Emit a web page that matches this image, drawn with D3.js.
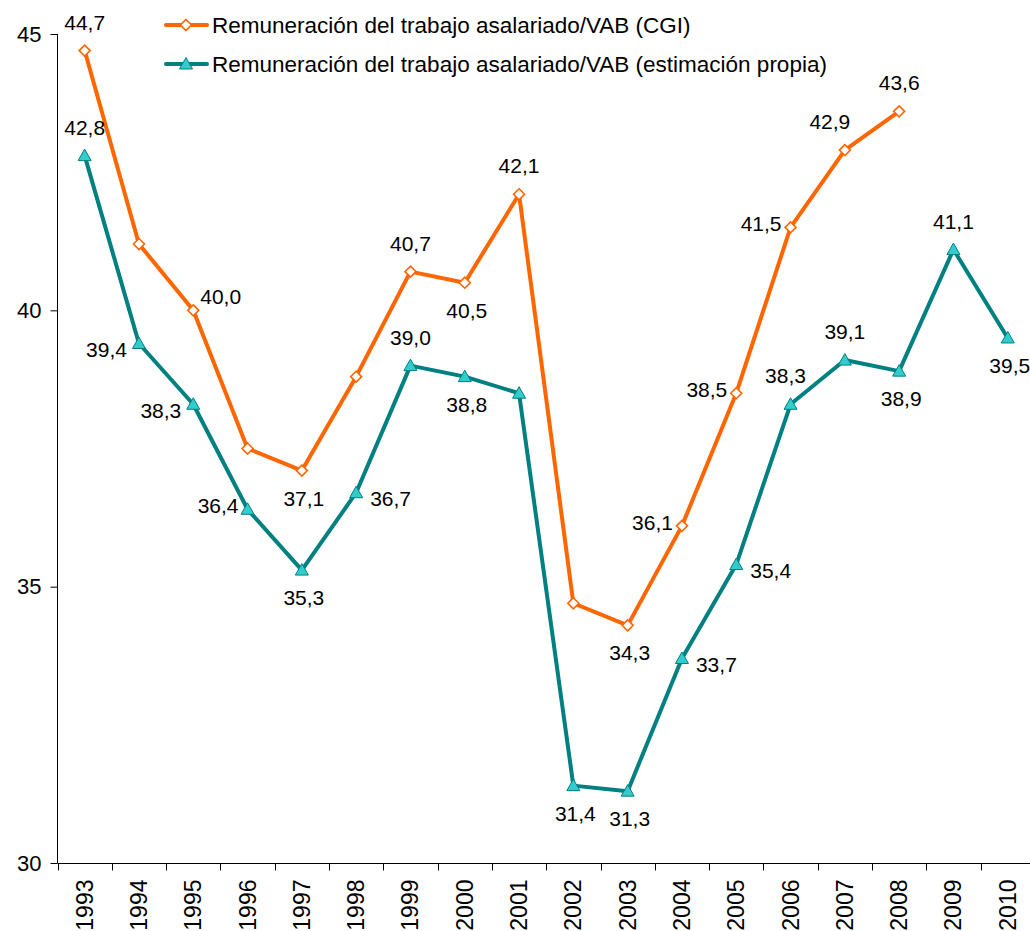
<!DOCTYPE html>
<html>
<head>
<meta charset="utf-8">
<script src="https://cdn.jsdelivr.net/npm/d3@7"></script>
<style>
  html, body { margin: 0; padding: 0; background: #fff; }
  svg { display: block; }
  text { font-family: "Liberation Sans", Arial, sans-serif; fill: #000; }
</style>
</head>
<body>
<svg id="chart" width="1030" height="931"></svg>
<script>
// Years on the category axis
const years = ["1993","1994","1995","1996","1997","1998","1999","2000","2001",
               "2002","2003","2004","2005","2006","2007","2008","2009","2010"];

// Compensation of employees / gross value added (%)
const cgiValues = [44.7, 41.2, 40.0, 37.5, 37.1, 38.8, 40.7, 40.5, 42.1,
                   34.7, 34.3, 36.1, 38.5, 41.5, 42.9, 43.6, null, null];
const ownValues = [42.8, 39.4, 38.3, 36.4, 35.3, 36.7, 39.0, 38.8, 38.5,
                   31.4, 31.3, 33.7, 35.4, 38.3, 39.1, 38.9, 41.1, 39.5];

// Which points carry a value label, and on which side
const cgiLabelSide = ["above", null, "upperRight", null, "below", null, "above", "below", "above",
                      null, "below", "left", "left", "left", "upperLeft", "above", null, null];
const ownLabelSide = ["above", "lowerLeft", "lowerLeft", "left", "below", "right", "above", "below", null,
                      "below", "below", "right", "right", "aboveShift", "above", "below", "above", "below"];

const yTicks = [30, 35, 40, 45];

const seriesNames = ["Remuneración del trabajo asalariado/VAB (CGI)",
                     "Remuneración del trabajo asalariado/VAB (estimación propia)"];

const orange = "#FF6600";
const teal = "#008080";
const tealFill = "#33CCCC";

const svg = d3.select("#chart");

const x = d3.scaleBand().domain(years).range([57.5, 57.5 + 18 * 54.3]).padding(0);
const y = d3.scaleLinear().domain([30, 45]).range([863, 34]);
const cx = d => x(d) + x.bandwidth() / 2;

// Y axis
const yAxis = d3.axisLeft(y).tickValues(yTicks).tickSize(7).tickPadding(9).tickFormat(d3.format("d"));
const gy = svg.append("g").attr("transform", "translate(57.5,0)").call(yAxis);
gy.select(".domain").attr("stroke", "#000").attr("stroke-width", 1).attr("d", "M0,34V863");
gy.selectAll(".tick line").attr("stroke", "#000");
gy.selectAll(".tick text")
  .attr("font-family", "Liberation Sans, Arial, sans-serif")
  .attr("font-size", 22)
  .attr("fill", "#000");

// X axis: ticks on band boundaries, labels rotated
const gx = svg.append("g").attr("transform", "translate(0,863.5)");
gx.append("line").attr("x1", 57.5).attr("x2", 1035).attr("stroke", "#000").attr("stroke-width", 1);
gx.selectAll("line.t").data(years).join("line")
  .attr("class", "t")
  .attr("x1", d => Math.round(x(d)) + 0.5).attr("x2", d => Math.round(x(d)) + 0.5)
  .attr("y1", 0).attr("y2", 7).attr("stroke", "#000");
gx.selectAll("text").data(years).join("text")
  .attr("transform", d => `translate(${cx(d) + 8},${16}) rotate(-90)`)
  .attr("text-anchor", "end")
  .attr("font-size", 23)
  .text(d => d);

// Lines
const line = d3.line()
  .defined(d => d.v != null)
  .x(d => cx(d.year))
  .y(d => y(d.v));

const cgiData = years.map((yr, i) => ({ year: yr, v: cgiValues[i], side: cgiLabelSide[i] }));
const ownData = years.map((yr, i) => ({ year: yr, v: ownValues[i], side: ownLabelSide[i] }));

svg.append("path").datum(ownData).attr("d", line)
  .attr("fill", "none").attr("stroke", teal).attr("stroke-width", 4).attr("stroke-linejoin", "round");
svg.append("path").datum(cgiData).attr("d", line)
  .attr("fill", "none").attr("stroke", orange).attr("stroke-width", 4).attr("stroke-linejoin", "round");

// Markers
const diamond = "M0,-5.5L5.5,0L0,5.5L-5.5,0Z";
const triangle = "M0,-6.5L6.5,5L-6.5,5Z";

svg.append("g").selectAll("path").data(cgiData.filter(d => d.v != null)).join("path")
  .attr("transform", d => `translate(${cx(d.year)},${y(d.v)})`)
  .attr("d", diamond).attr("fill", "#fff").attr("stroke", orange).attr("stroke-width", 1.6);

svg.append("g").selectAll("path").data(ownData.filter(d => d.v != null)).join("path")
  .attr("transform", d => `translate(${cx(d.year)},${y(d.v)})`)
  .attr("d", triangle).attr("fill", tealFill).attr("stroke", teal).attr("stroke-width", 1);

// Value labels: [dx, dy (baseline), anchor]
const fmt = v => d3.format(".1f")(v).replace(".", ",");
const placement = {
  above:      [0, -21, "middle"],
  aboveShift: [-5, -21, "middle"],
  below:      [2, 35, "middle"],
  left:       [-9, 4, "end"],
  lowerLeft:  [-12, 14, "end"],
  right:      [14, 13, "start"],
  upperRight: [7, -6, "start"],
  upperLeft:  [-15, -21, "middle"]
};
function drawLabels(data) {
  svg.append("g").selectAll("text").data(data.filter(d => d.v != null && d.side)).join("text")
    .attr("x", d => cx(d.year) + placement[d.side][0])
    .attr("y", d => y(d.v) + placement[d.side][1])
    .attr("text-anchor", d => placement[d.side][2])
    .attr("font-size", 21)
    .text(d => fmt(d.v));
}
drawLabels(cgiData);
drawLabels(ownData);

// Legend
const legend = svg.append("g");
const legendItems = [
  { name: seriesNames[0], color: orange, marker: diamond, fill: "#fff", stroke: orange, sw: 1.6, ly: 25 },
  { name: seriesNames[1], color: teal, marker: triangle, fill: tealFill, stroke: teal, sw: 1, ly: 64 }
];
legendItems.forEach(it => {
  legend.append("line").attr("x1", 166).attr("x2", 207).attr("y1", it.ly).attr("y2", it.ly)
    .attr("stroke", it.color).attr("stroke-width", 4).attr("stroke-linecap", "round");
  legend.append("path").attr("transform", `translate(186,${it.ly})`).attr("d", it.marker)
    .attr("fill", it.fill).attr("stroke", it.stroke).attr("stroke-width", it.sw);
  legend.append("text").attr("x", 212).attr("y", it.ly + 8).attr("font-size", 22.5).text(it.name);
});
</script>
</body>
</html>
